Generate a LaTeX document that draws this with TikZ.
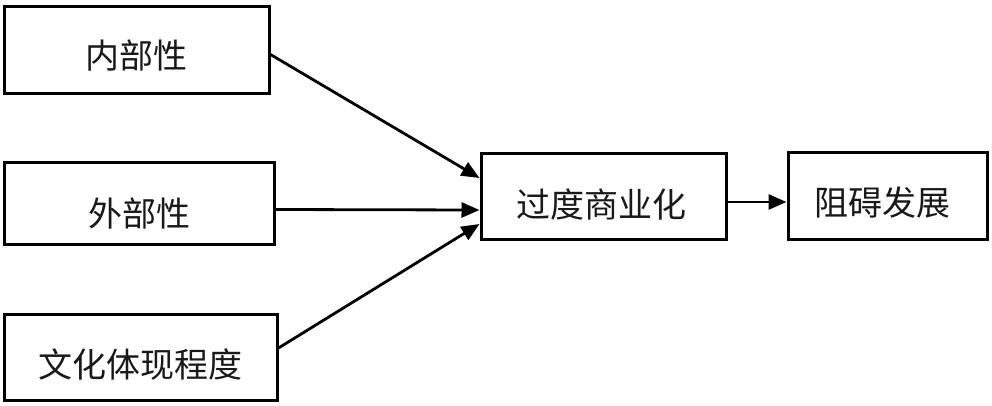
\documentclass[tikz,border=0pt]{standalone}
\usepackage{fontspec}
\setmainfont{Noto Sans CJK SC}
\usetikzlibrary{arrows.meta}
\begin{document}
\begin{tikzpicture}[x=1pt,y=-1pt,
  box/.style={draw=black,line width=3pt,fill=white,inner sep=0pt},
  lbl/.style={font=\fontsize{34}{40}\selectfont,inner sep=0pt,text=black!90},
  conn/.style={line width=2.8pt,-{Triangle[length=18pt,width=15pt]}}]
\useasboundingbox (0,0) rectangle (992,405);
\node[box,minimum width=265pt,minimum height=87pt] (a) at (136.5,49.5) {};
\node[box,minimum width=270pt,minimum height=82pt] (b) at (139,203.5) {};
\node[box,minimum width=273pt,minimum height=86pt] (c) at (140.5,357) {};
\node[box,minimum width=245pt,minimum height=86pt] (d) at (603.5,196) {};
\node[box,minimum width=199pt,minimum height=87pt] (e) at (887.5,195.5) {};
\node[lbl] (ta) at ([yshift=-6pt]a.center) {内部性};
\node[lbl] (tb) at ([yshift=-10pt]b.center) {外部性};
\node[lbl] (tc) at ([yshift=-8pt]c.center) {文化体现程度};
\node[lbl] (td) at ([xshift=-2pt,yshift=-8pt]d.center) {过度商业化};
\node[lbl] (te) at ([xshift=-5pt,yshift=-7pt]e.center) {阻碍发展};
\coordinate (da) at ([yshift=18pt]d.west);
\coordinate (db) at ([yshift=-14pt]d.west);
\coordinate (dc) at ([yshift=-28pt]d.west);
\draw[conn] ([yshift=-5pt]a.east) -- (da);
\draw[conn] ([yshift=-6pt]b.east) -- (db);
\draw[conn] ([yshift=9pt]c.east) -- (dc);
\draw[conn] ([yshift=-6pt]d.east) -- ([yshift=-6pt]d.east -| e.west);
\end{tikzpicture}
\end{document}
